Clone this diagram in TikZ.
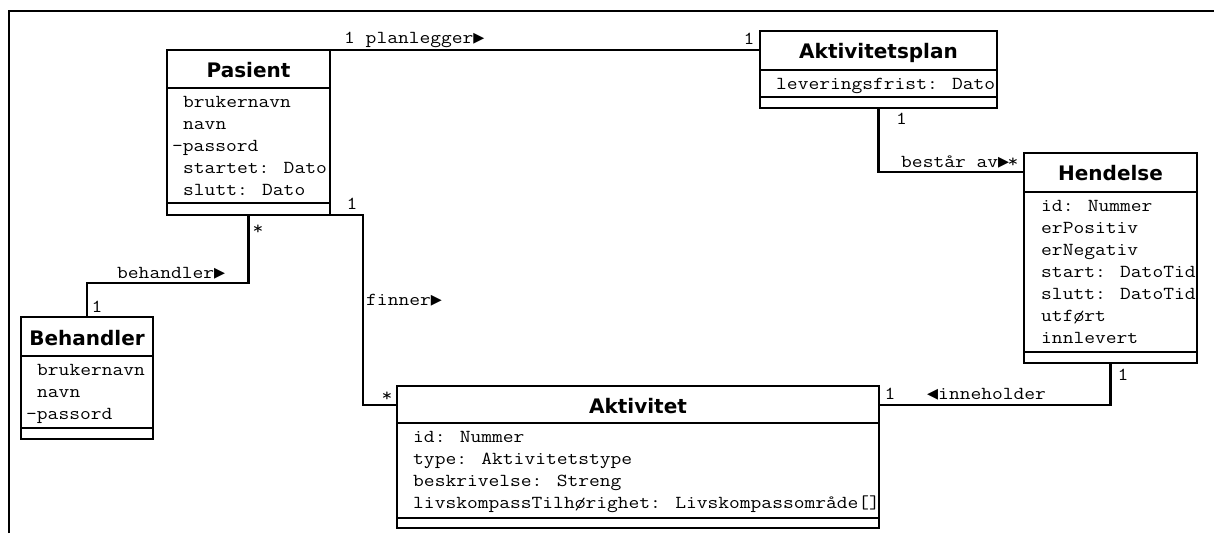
\documentclass[tikz,border=0pt]{standalone}
\usepackage{fontspec}
\newfontfamily\monof{Latin Modern Mono}[FakeStretch=1.143]
\newfontfamily\headf{DejaVu Sans}
\newfontfamily\glyphf{DejaVu Sans Mono}
\usetikzlibrary{calc}
\newcommand\rtri{{\glyphf ▶}}
\newcommand\ltri{{\glyphf ◀}}

\begin{document}
\begin{tikzpicture}[x=1pt,y=-1pt,
  cls/.style={draw, line width=2.8pt, rectangle, inner sep=0pt, outer sep=0pt},
  divider/.style={line width=2.8pt},
  conn/.style={line width=2.6pt},
  ttl/.style={font=\headf\bfseries\fontsize{20}{24}\selectfont, anchor=base, inner sep=0pt},
  attr/.style={font=\monof\fontsize{18.3}{22}\selectfont, anchor=base west, inner sep=0pt},
  lbl/.style={font=\monof\fontsize{18.3}{22}\selectfont, anchor=base west, inner sep=0pt},
]
\useasboundingbox (0,0) rectangle (1214,533);

% outer frame (top and left edges)
\draw[line width=2.8pt] (9,533) -- (9,11) -- (1214,11);

% ---------- attributes ----------
\foreach \x/\t [count=\i] in {183/brukernavn, 183/navn, 172/-passord, 183/startet: Dato, 183/slutt: Dato}
  \node[attr] (pas-a\i) at (\x,{107+22*(\i-1)}) {\t};
\node[attr] (akp-a1) at (776,89) {leveringsfrist: Dato};
\foreach \t [count=\i] in {id: Nummer, erPositiv, erNegativ, start: DatoTid, slutt: DatoTid, utført, innlevert}
  \node[attr] (hen-a\i) at (1041,{211+22*(\i-1)}) {\t};
\foreach \x/\t [count=\i] in {37/brukernavn, 37/navn, 26/-passord}
  \node[attr] (beh-a\i) at (\x,{375+22*(\i-1)}) {\t};
\foreach \t [count=\i] in {id: Nummer, type: Aktivitetstype, beskrivelse: Streng, livskompassTilhørighet: Livskompassområde[]}
  \node[attr] (akt-a\i) at (413,{442+22*(\i-1)}) {\t};

% ---------- class boxes ----------
\node[cls, minimum width=163pt, minimum height=165pt] (pas) at (248.5,132.5) {};
\node[cls, minimum width=237pt, minimum height=77pt]  (akp) at (878.5,69.5) {};
\node[cls, minimum width=173pt, minimum height=210pt] (hen) at (1110.5,258) {};
\node[cls, minimum width=132pt, minimum height=122pt] (beh) at (87,378) {};
\node[cls, minimum width=482pt, minimum height=142pt] (akt) at (638,457) {};

% compartment dividers
\draw[divider] (pas.west |- 0,88) -- (pas.east |- 0,88);
\draw[divider] (pas.west |- 0,203) -- (pas.east |- 0,203);
\draw[divider] (akp.west |- 0,70) -- (akp.east |- 0,70);
\draw[divider] (akp.west |- 0,97) -- (akp.east |- 0,97);
\draw[divider] (hen.west |- 0,192) -- (hen.east |- 0,192);
\draw[divider] (hen.west |- 0,352) -- (hen.east |- 0,352);
\draw[divider] (beh.west |- 0,356) -- (beh.east |- 0,356);
\draw[divider] (beh.west |- 0,428) -- (beh.east |- 0,428);
\draw[divider] (akt.west |- 0,423) -- (akt.east |- 0,423);
\draw[divider] (akt.west |- 0,518) -- (akt.east |- 0,518);

% class names
\node[ttl] (pas-t) at (248.5,77) {Pasient};
\node[ttl] (akp-t) at (878.5,58) {Aktivitetsplan};
\node[ttl] (hen-t) at (1110.5,180) {Hendelse};
\node[ttl] (beh-t) at (87,345) {Behandler};
\node[ttl] (akt-t) at (638,413) {Aktivitet};

% ---------- associations ----------
\draw[conn] (pas.north east) -- (pas.north east -| akp.west);
\draw[conn] (pas.south) -- ++(0,68) -| (beh.north);
\draw[conn] (pas.south east) -- ++(33,0) |- ([yshift=-19pt]akt.north west);
\draw[conn] (akp.south) |- ([yshift=-19pt]hen.north west);
\draw[conn] (hen.south) |- ([yshift=-19pt]akt.north east);

% association names and multiplicities
\node[lbl] (plan-l)  at (344,43) {1 planlegger\rtri};
\node[lbl] (plan-m)  at (743.5,44) {1};
\node[lbl] (beh-m1)  at (252.5,234) {*};
\node[lbl] (beh-l)   at (117,278) {behandler\rtri};
\node[lbl] (beh-m2)  at (91.5,312) {1};
\node[lbl] (fin-m1)  at (346.5,209) {1};
\node[lbl] (fin-l)   at (366,305) {finner\rtri};
\node[lbl] (fin-m2)  at (381.5,401) {*};
\node[lbl] (bes-m1)  at (896,124) {1};
\node[lbl] (bes-l)   at (901,167) {består av\rtri};
\node[lbl] (bes-m2)  at (1007.5,167) {*};
\node[lbl] (inn-m1)  at (884.5,399) {1};
\node[lbl] (inn-l)   at (927,399) {\ltri inneholder};
\node[lbl] (inn-m2)  at (1117.5,380) {1};
\end{tikzpicture}
\end{document}
